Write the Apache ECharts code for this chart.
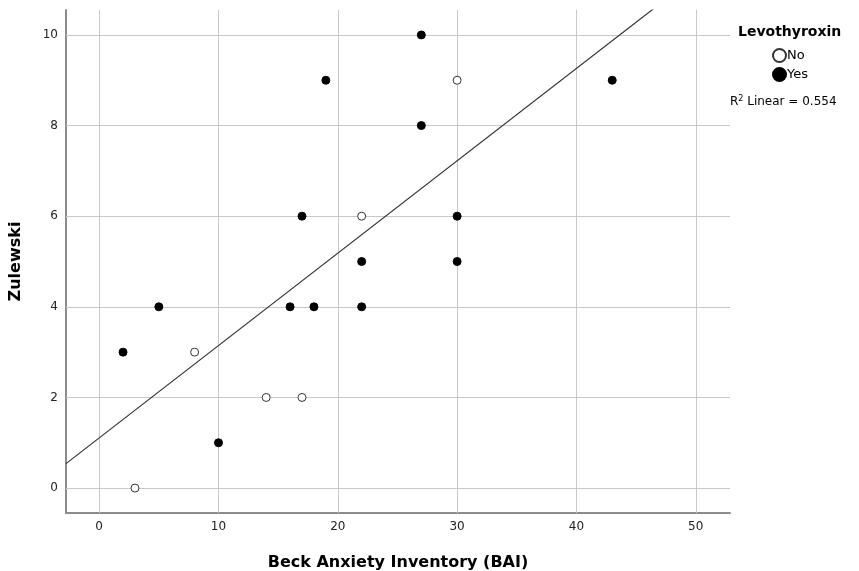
<!DOCTYPE html>
<html><head><meta charset="utf-8">
<script src="https://cdn.jsdelivr.net/npm/echarts@6/dist/echarts.min.js"></script>
<style>html,body{margin:0;padding:0;background:#fff}#c{width:859px;height:571px}</style>
</head><body><div id="c"></div>
<script>
const noX = [3, 8, 14, 17, 22, 30];
const noY = [0, 3, 2, 2, 6, 9];
const yesX = [2, 5, 10, 16, 17, 18, 19, 22, 22, 27, 27, 30, 30, 43];
const yesY = [3, 4, 1, 4, 6, 4, 9, 5, 4, 10, 8, 6, 5, 9];
const xTicks = [0, 10, 20, 30, 40, 50];
const yTicks = [0, 2, 4, 6, 8, 10];
const legendNames = ['No', 'Yes'];

const allX = noX.concat(yesX), allY = noY.concat(yesY);
const n = allX.length;
const mx = allX.reduce((a,b)=>a+b,0)/n, my = allY.reduce((a,b)=>a+b,0)/n;
let sxy=0, sxx=0, syy=0;
for (let i=0;i<n;i++){sxy+=(allX[i]-mx)*(allY[i]-my);sxx+=(allX[i]-mx)**2;syy+=(allY[i]-my)**2;}
const slope = sxy/sxx, icpt = my - slope*mx;
const r2 = (sxy*sxy/(sxx*syy)).toFixed(3);
const xMin = -2.78, xMax = 52.87, yMin = -0.55, yMax = 10.55;

const chart = echarts.init(document.getElementById('c'));
const font = 'DejaVu Sans, sans-serif';
chart.setOption({
  animation: false,
  grid: {left: 66, right: 129, top: 10, bottom: 58, outerBoundsMode: 'none', containLabel: false},
  title: [{
    text: 'Levothyroxin', left: 733, top: 20,
    textStyle: {fontFamily: font, fontSize: 14, fontWeight: 'bold', color: '#000'}
  }],
  graphic: [{
    type: 'text', left: 730, top: 95,
    style: {
      text: '{n|R}{s|2}{n| Linear = ' + r2 + '}',
      rich: {
        n: {fontFamily: font, fontSize: 12, fill: '#000', verticalAlign: 'bottom'},
        s: {fontFamily: font, fontSize: 8, fill: '#000', verticalAlign: 'top', padding:[0,0,5,0]}
      }
    }
  }],
  legend: {
    orient: 'vertical', left: 767, top: 43, itemWidth: 13, itemHeight: 13, itemGap: 4,
    data: legendNames, icon: 'circle',
    textStyle: {fontFamily: font, fontSize: 13, color: '#000', padding: [0,0,0,-4]}
  },
  xAxis: {
    type: 'value', min: xMin, max: xMax,
    name: 'Beck Anxiety Inventory (BAI)', nameLocation: 'middle', nameGap: 42,
    nameTextStyle: {fontFamily: font, fontSize: 16, fontWeight: 'bold', color: '#000'},
    axisLine: {show: true, onZero: false, lineStyle: {color: '#8c8c8c', width: 2}},
    axisTick: {show: false},
    splitLine: {show: false},
    axisLabel: {fontFamily: font, fontSize: 12, color: '#222', margin: 8,
      customValues: xTicks, formatter: v => String(v)},
    axisPointer: {show: false}
  },
  yAxis: {
    type: 'value', min: yMin, max: yMax,
    name: 'Zulewski', nameLocation: 'middle', nameGap: 42, nameRotate: 90,
    nameTextStyle: {fontFamily: font, fontSize: 16, fontWeight: 'bold', color: '#000'},
    axisLine: {show: true, onZero: false, lineStyle: {color: '#8c8c8c', width: 2}},
    axisTick: {show: false},
    splitLine: {show: false},
    axisLabel: {fontFamily: font, fontSize: 12, color: '#222', margin: 8,
      customValues: yTicks, formatter: v => String(v)}
  },
  series: [
    {
      name: 'grid', type: 'line', silent: true, data: [], z: 1,
      markLine: {
        silent: true, symbol: 'none', label: {show: false}, z: 1,
        lineStyle: {color: '#c8c8c8', width: 1, type: 'solid'},
        emphasis: {disabled: true},
        data: xTicks.map(v => ({xAxis: v})).concat(yTicks.map(v => ({yAxis: v})))
      }
    },
    {
      name: 'fit', type: 'line', silent: true, clip: true, showSymbol: false, symbol: 'none',
      lineStyle: {color: '#333', width: 1.2},
      data: [[xMin, icpt + slope*xMin], [xMax, icpt + slope*xMax]], z: 3
    },
    {
      name: 'No', type: 'scatter', symbol: 'circle', symbolSize: 8,
      itemStyle: {color: '#fff', borderColor: '#333', borderWidth: 1, opacity: 1},
      data: noX.map((x,i)=>[x, noY[i]]), z: 4
    },
    {
      name: 'Yes', type: 'scatter', symbol: 'circle', symbolSize: 8,
      itemStyle: {color: '#000', borderColor: '#000', borderWidth: 1, opacity: 1},
      data: yesX.map((x,i)=>[x, yesY[i]]), z: 4
    }
  ]
});
</script></body></html>
